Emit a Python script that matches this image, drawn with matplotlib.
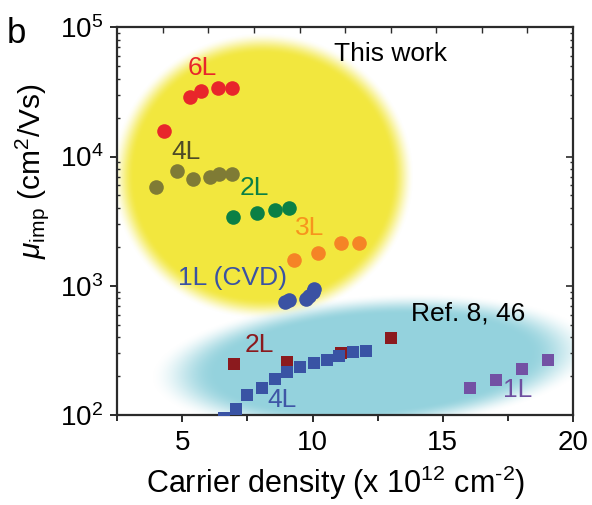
import numpy as np
import matplotlib
matplotlib.use('Agg')
import matplotlib.pyplot as plt

plt.rcParams['font.family'] = ['Liberation Sans', 'DejaVu Sans']
plt.rcParams['mathtext.fontset'] = 'custom'
plt.rcParams['mathtext.rm'] = 'Liberation Sans'
plt.rcParams['mathtext.it'] = 'Liberation Sans:italic'

# ── This work (round markers) ─────────────────────────────────
n_6L   = [4.3, 5.3, 5.7, 6.35, 6.9]
mu_6L  = [15700, 28800, 32000, 33700, 33700]
n_4L   = [4.0, 4.8, 5.4, 6.05, 6.4, 6.9]
mu_4L  = [5800, 7700, 6750, 6950, 7300, 7300]
n_2L   = [6.95, 7.85, 8.55, 9.1]
mu_2L  = [3400, 3650, 3850, 4030]
n_3L   = [9.3, 10.2, 11.1, 11.8]
mu_3L  = [1580, 1780, 2130, 2130]
n_1L   = [8.95, 9.1, 9.75, 9.85, 10.0, 10.05]
mu_1L  = [745, 775, 790, 830, 900, 950]

# ── Ref. 8, 46 (square markers) ───────────────────────────────
n_ref2L  = [7.0, 9.0, 11.1, 13.0]
mu_ref2L = [248, 257, 300, 393]
n_ref4L  = [6.6, 7.05, 7.5, 8.05, 8.55, 9.0, 9.5, 10.05, 10.55, 11.0, 11.55, 12.05]
mu_ref4L = [95, 112, 143, 161, 189, 214, 236, 254, 269, 285, 305, 314]
n_ref1L  = [16.05, 17.05, 18.05, 19.05]
mu_ref1L = [161, 186, 229, 266]

fig = plt.figure(figsize=(5.92, 5.05), dpi=100)
ax = fig.add_axes([0.198, 0.178, 0.770, 0.768])
ax.set_xscale('linear')
ax.set_yscale('log')
ax.set_xlim(2.5, 20)
ax.set_ylim(100, 1e5)


def soft_ellipse(color, cx, cy, rx, ry, blur, angle=0.0, w=456, h=388):
    # blurred filled ellipse, in axes pixel space
    yy, xx = np.mgrid[0:h, 0:w] + 0.5
    dx, dy = xx - cx, yy - cy
    t = np.deg2rad(angle)
    u = dx * np.cos(t) + dy * np.sin(t)
    v = -dx * np.sin(t) + dy * np.cos(t)
    r = np.sqrt((u / rx) ** 2 + (v / ry) ** 2)
    a = np.clip((1 - r) / blur + 0.5, 0, 1)
    a = a * a * (3 - 2 * a)
    img = np.zeros((h, w, 4))
    img[..., :3] = matplotlib.colors.to_rgb(color)
    img[..., 3] = a
    ax.imshow(img, extent=(0, 1, 0, 1), transform=ax.transAxes,
              origin='lower', aspect='auto', zorder=0, interpolation='bilinear')


soft_ellipse('#f3e73e', 146, 239, 140, 133, 0.16)
soft_ellipse('#94d3dd', 256, 52, 190, 58, 0.35, angle=4)

# this work
mk = dict(marker='o', ms=10.5, ls='none', mew=0, zorder=3)
ax.plot(n_6L, mu_6L, color='#e8262b', **mk)
ax.plot(n_4L, mu_4L, color='#7f7b35', **mk)
ax.plot(n_2L, mu_2L, color='#0b8045', **mk)
ax.plot(n_3L, mu_3L, color='#f58426', **mk)
ax.plot(n_1L, mu_1L, color='#3a52a3', **mk)

# references
sq = dict(marker='s', ms=9.2, ls='none', mew=0, zorder=3)
ax.plot(n_ref2L, mu_ref2L, color='#8b1a1e', **sq)
ax.plot(n_ref4L, mu_ref4L, color='#3953a4', **sq)
ax.plot(n_ref1L, mu_ref1L, color='#7351a4', **sq)

fs = 19
ax.text(5.77, 48200, '6L', color='#e8262b', fontsize=fs, ha='center', va='center')
ax.text(5.15, 10800, '4L', color='#4e4b26', fontsize=fs, ha='center', va='center')
ax.text(7.77, 5690, '2L', color='#0b8045', fontsize=fs, ha='center', va='center')
ax.text(9.88, 2790, '3L', color='#f7941d', fontsize=fs, ha='center', va='center')
ax.text(6.92, 1146, '1L (CVD)', color='#3a52a3', fontsize=fs, ha='center', va='center')
ax.text(13.0, 61800, 'This work', color='black', fontsize=fs, ha='center', va='center')
ax.text(15.96, 614, 'Ref. 8, 46', color='black', fontsize=fs, ha='center', va='center')
ax.text(7.96, 348, '2L', color='#8b1a1e', fontsize=fs, ha='center', va='center')
ax.text(8.81, 130, '4L', color='#3f56a6', fontsize=fs, ha='center', va='center')
ax.text(17.88, 156, '1L', color='#6e4fa0', fontsize=fs, ha='center', va='center')

# axes styling
spine_c = '#2b2b2b'
for s in ax.spines.values():
    s.set_color(spine_c)
    s.set_linewidth(1.6)

ax.set_xticks([5, 10, 15, 20])
ax.set_xticks([2.5, 7.5, 12.5, 17.5], minor=True)
ax.tick_params(axis='x', which='both', direction='out', top=False,
               color=spine_c, width=1.4, labelsize=20, pad=6)
ax.tick_params(axis='x', which='major', length=5)
ax.tick_params(axis='x', which='minor', length=4)
ax.tick_params(axis='y', which='major', direction='out', right=False,
               length=5, width=1.4, color=spine_c, labelsize=20, pad=5)
ax.tick_params(axis='y', which='minor', direction='in', right=False,
               length=2.5, width=1.0, color=spine_c)

# top and right tick marks
axt = ax.twiny()
axt.set_xlim(0, 1)
axt.set_xticks(np.arange(1, 10) / 10)
axt.tick_params(axis='x', direction='in', length=4, width=1.0, color=spine_c,
                labeltop=False)
axr = ax.twinx()
axr.set_yscale('log')
axr.set_ylim(ax.get_ylim())
axr.tick_params(axis='y', which='major', direction='in', length=5, width=1.2,
                color=spine_c, labelright=False)
axr.tick_params(axis='y', which='minor', direction='in', length=2.5, width=1.0,
                color=spine_c, labelright=False)
for a in (axt, axr):
    for s in a.spines.values():
        s.set_visible(False)

ax.set_xlabel('Carrier density (x 10$^{12}$ cm$^{\u2010 2}$)', fontsize=22)
ax.set_ylabel(r'$\mu_{\mathrm{imp}}$ (cm$^{2}$/Vs)', fontsize=21.5)
ax.xaxis.set_label_coords(0.48, -0.125)
ax.yaxis.set_label_coords(-0.145, 0.63)

fig.text(7 / 592, 1 - 43 / 505, 'b', fontsize=25, va='baseline', ha='left')

fig.savefig('out.png', dpi=100)
